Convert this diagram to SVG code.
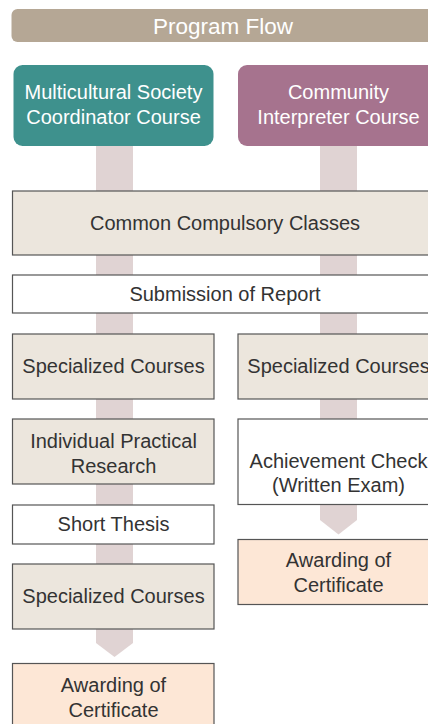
<svg xmlns="http://www.w3.org/2000/svg" width="428" height="724" viewBox="0 0 428 724">
<style>
text{font-family:"Liberation Sans",Arial,sans-serif;font-size:20px;text-anchor:middle;fill:#333}
.w{fill:#fff}
.box{stroke:#555;stroke-width:1.2}
.beige{fill:#ece6dd}
.white{fill:#fff}
.peach{fill:#fde7d6}
.bar{fill:#e0d3d3}
</style>
<rect width="428" height="724" fill="#fff"/>
<g id="header">
<rect x="11.5" y="9" width="440" height="33" rx="6" fill="#b5a795"/>
<text x="223" y="34" class="w" style="font-size:22.5px">Program Flow</text>
</g>
<g id="connectors">
<polygon class="bar" points="96,146 133,146 133,643 114.5,657 96,643"/>
<polygon class="bar" points="320,146 357,146 357,520 338.5,534.5 320,520"/>
</g>
<g id="course-msc">
<rect x="13.5" y="65" width="200" height="81" rx="9" fill="#3e918d"/>
<text x="113.5" y="99" class="w">Multicultural Society</text>
<text x="113.5" y="124" class="w">Coordinator Course</text>
</g>
<g id="course-ci">
<rect x="238" y="65" width="202" height="81" rx="9" fill="#a6738e"/>
<text x="338.5" y="99" class="w">Community</text>
<text x="338.5" y="124" class="w">Interpreter Course</text>
</g>
<g id="common">
<rect class="box beige" x="12.5" y="191" width="440" height="64"/>
<text x="225" y="230">Common Compulsory Classes</text>
</g>
<g id="report">
<rect class="box white" x="12.5" y="275" width="440" height="38"/>
<text x="225" y="301">Submission of Report</text>
</g>
<g id="spec-l1">
<rect class="box beige" x="12.5" y="334" width="201.5" height="65"/>
<text x="113.5" y="373">Specialized Courses</text>
</g>
<g id="spec-r">
<rect class="box beige" x="238" y="334" width="202" height="65"/>
<text x="338.5" y="373">Specialized Courses</text>
</g>
<g id="research">
<rect class="box beige" x="12.5" y="419" width="201.5" height="65"/>
<text x="113.5" y="448">Individual Practical</text>
<text x="113.5" y="473">Research</text>
</g>
<g id="achievement">
<rect class="box white" x="238" y="419" width="202" height="85.5"/>
<text x="338.5" y="468">Achievement Check</text>
<text x="338.5" y="492">(Written Exam)</text>
</g>
<g id="thesis">
<rect class="box white" x="12.5" y="505" width="201.5" height="39"/>
<text x="113.5" y="531">Short Thesis</text>
</g>
<g id="spec-l2">
<rect class="box beige" x="12.5" y="564" width="201.5" height="65"/>
<text x="113.5" y="603">Specialized Courses</text>
</g>
<g id="award-r">
<rect class="box peach" x="238" y="539.5" width="202" height="65"/>
<text x="338.5" y="567">Awarding of</text>
<text x="338.5" y="592">Certificate</text>
</g>
<g id="award-l">
<rect class="box peach" x="12.5" y="663.5" width="201.5" height="80"/>
<text x="113.5" y="692">Awarding of</text>
<text x="113.5" y="717">Certificate</text>
</g>
</svg>
